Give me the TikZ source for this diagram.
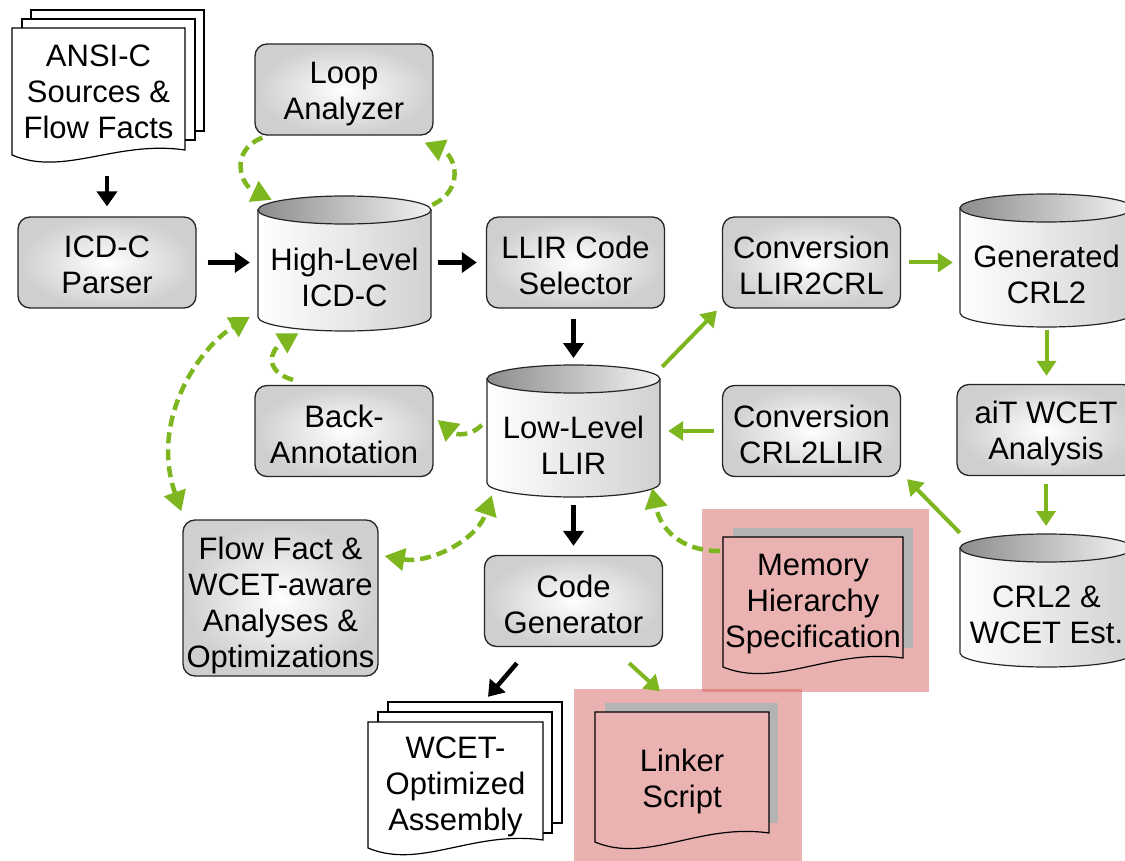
\documentclass[tikz,border=0pt]{standalone}
\usepackage{fontspec}
\setmainfont{Liberation Sans}
\usetikzlibrary{arrows.meta,calc}

\definecolor{flowgreen}{RGB}{125,182,31}
\definecolor{hlpink}{RGB}{215,101,101}
\definecolor{docpink}{RGB}{235,178,178}
\definecolor{shadowgray}{RGB}{180,180,180}

\tikzset{
  lbl/.style={font=\fontsize{31}{36}\selectfont, align=center},
  procbox/.style={draw=black!85, line width=1.3pt, rounded corners=12pt,
    inner color=white, outer color=black!19,
    minimum width=178pt, minimum height=91pt, inner sep=0pt},
  textarea/.style={lbl, inner sep=0pt},
  blk/.style={line width=4.5pt, black, -{Triangle[length=15pt,width=20pt]}},
  grn/.style={line width=4pt, flowgreen, -{Triangle[length=15pt,width=19pt]}},
  grnd/.style={line width=4.5pt, flowgreen, dash pattern=on 11pt off 6pt,
    -{Triangle[length=20pt,width=22pt]}},
  grndd/.style={grnd, {Triangle[length=20pt,width=22pt]}-{Triangle[length=20pt,width=22pt]}},
  sheet/.style={draw=black, line width=1.2pt, fill=white},
  pinksheet/.style={draw=black, line width=1.2pt, fill=docpink},
  highlight/.style={fill=hlpink, fill opacity=0.5},
  shadowbox/.style={fill=shadowgray},
}

% rounded processing box: options, name, centre, label shift, label
\newcommand\procnode[5][]{%
  \node[procbox, #1, label={[lbl, yshift=#4]center:{#5}}] (#2) at (#3) {};
}

% database cylinder: name, left x, top rim y, bottom rim y, width, label
\newcommand\cylnode[6]{%
  \pgfmathsetmacro\cylcx{#2+#5/2}%
  \pgfmathsetmacro\cylx{#2+#5}%
  \pgfmathsetmacro\cylhw{#5/2}%
  \pgfmathsetmacro\cylk{0.5523*#5/2}%
  \pgfmathsetmacro\cylbd{#4+14}%
  \pgfmathsetmacro\cylbk{#4+0.5523*14}%
  \pgfmathsetmacro\cylmid{(#3+#4)/2+14}%
  \pgfmathsetmacro\cylh{#4-#3}%
  \draw[line width=1.2pt, draw=black!85, left color=white, right color=black!18]
    (#2,#3) -- (#2,#4) .. controls (#2,\cylbk) and ({\cylcx-\cylk},\cylbd) .. (\cylcx,\cylbd)
    .. controls ({\cylcx+\cylk},\cylbd) and (\cylx,\cylbk) .. (\cylx,#4) -- (\cylx,#3) -- cycle;
  \draw[line width=1.2pt, draw=black!85, left color=black!45, right color=black!5]
    (\cylcx,#3) ellipse [x radius=\cylhw pt, y radius=14pt];
  \coordinate (#1-top) at (\cylcx,{#3-14});
  \node[textarea, minimum width=#5 pt, minimum height=\cylh pt] (#1) at (\cylcx,\cylmid) {#6};
}

% document sheet with wavy lower edge: style, left x, top y, right x, left bottom y, right bottom y
\newcommand\docshape[6]{%
  \pgfmathsetmacro\docw{#4-#2}%
  \draw[#1] (#2,#3) -- (#4,#3) -- (#4,#6)
    .. controls ({#2+0.6*\docw},{#6-10}) and ({#2+0.3*\docw},{#5+22}) .. (#2,#5) -- cycle;
}

\begin{document}
\begin{tikzpicture}[x=1pt, y=-1pt]
\useasboundingbox[fill=white] (0,0) rectangle (1125,861);
\clip (0,0) rectangle (1125,861);

% highlighted target-specific inputs and outputs
\fill[highlight] (702,509) rectangle (929,692);
\fill[highlight] (574,689) rectangle (802,870);
\fill[shadowbox] (733,528) rectangle (913,648);
\fill[shadowbox] (605,703) rectangle (778,823);

% source files
\draw[sheet] (31,10) rectangle (204,131);
\draw[sheet] (22,19) rectangle (195,140);
\docshape{sheet}{12}{28}{185}{155}{150}
\node[textarea, minimum width=173pt, minimum height=122pt] (ansi) at (98.5,92) {ANSI-C\\Sources \&\\Flow Facts};

% generated assembly
\draw[sheet] (388,702) rectangle (562,823);
\draw[sheet] (378,712) rectangle (552,833);
\docshape{sheet}{368}{722}{543}{848}{840}
\node[textarea, minimum width=175pt, minimum height=118pt] (asm) at (455.5,787) {WCET-\\Optimized\\Assembly};

% memory hierarchy and linker script
\docshape{pinksheet}{723}{537}{903}{667}{658}
\node[textarea, minimum width=180pt, minimum height=121pt] (mem) at (813,604) {Memory\\Hierarchy\\Specification};
\docshape{pinksheet}{595}{712}{769}{842}{833}
\node[textarea, minimum width=174pt, minimum height=121pt] (linker) at (682,781) {Linker\\Script};

% processing steps
\procnode{loop}{344,89.5}{-5pt}{Loop\\Analyzer}
\procnode{parser}{107,262.5}{-2pt}{ICD-C\\Parser}
\procnode{sel}{575.5,262.5}{-3pt}{LLIR Code\\Selector}
\procnode{conv1}{811.5,262.5}{-3pt}{Conversion\\LLIR2CRL}
\procnode{ait}{1046,430}{-3pt}{aiT WCET\\Analysis}
\procnode{conv2}{811.5,431}{-3pt}{Conversion\\CRL2LLIR}
\procnode{ba}{344,431}{-3pt}{Back-\\Annotation}
\procnode[minimum width=195pt, minimum height=156pt]{flow}{280.5,598}{-7pt}%
  {Flow Fact \&\\WCET-aware\\Analyses \&\\Optimizations}
\procnode{codegen}{573.5,601}{-3pt}{Code\\Generator}

% intermediate representations
\cylnode{hl}{258}{210}{317}{173}{High-Level\\ICD-C}
\cylnode{llir}{487}{379}{483}{173}{Low-Level\\LLIR}
\cylnode{gen}{960}{208}{313}{173}{Generated\\CRL2}
\cylnode{crlw}{960}{548}{653}{173}{CRL2 \&\\WCET Est.}

% compiler flow
\draw[blk, shorten <=23pt, shorten >=10pt] (parser.north |- ansi.south) -- (parser.north);
\draw[blk, shorten <=11pt, shorten >=8pt] (parser.east) -- (parser.east -| hl.west);
\draw[blk, shorten <=7pt, shorten >=9pt] (hl.east |- sel.west) -- (sel.west);
\draw[blk, shorten <=10pt, shorten >=7pt] (llir-top |- sel.south) -- (llir-top);
\draw[blk, shorten <=8pt, shorten >=9pt] (llir.south) -- (llir.south |- codegen.north);
\draw[blk] ($(codegen.south west)+(33,16)$) -- ($(asm.north)+(32.5,-31)$);

% WCET analysis loop
\draw[grn] ($(llir.north east)+(2,-26)$) -- ($(conv1.south west)+(-5,2)$);
\draw[grn, shorten <=8pt, shorten >=7pt] (conv1.east) -- (conv1.east -| gen.west);
\draw[grn, shorten <=3pt, shorten >=8pt] (gen.south) -- (gen.south |- ait.north);
\draw[grn, shorten <=8pt, shorten >=8pt] (ait.south) -- (ait.south |- crlw-top);
\draw[grn] ($(crlw.north west)+(0,-29)$) -- ($(conv2.south east)+(6,2)$);
\draw[grn, shorten <=8pt, shorten >=8pt] (conv2.west) -- (conv2.west -| llir.east);
\draw[grn] ($(codegen.south east)+(-34,16)$) -- ($(linker.north)+(-22,-29)$);

% information exchange
\draw[grnd] ($(loop.south west)+(8,2)$) .. controls +(-33,13) and +(-32,-15) .. ($(hl.north west)+(14,-24)$);
\draw[grnd] ($(hl.north east)+(1,-19)$) .. controls +(33,-15) and +(31,13) .. ($(loop.south east)+(-9,7)$);
\draw[grnd] ($(ba.north)+(-51,-5)$) .. controls +(-28,-8) and +(-30,18) .. ($(hl.south)+(-46,2)$);
\draw[grnd] ($(llir.west)+(-5,-20)$) .. controls +(-12,12) and +(18,15) .. ($(ba.east)+(4,-11)$);
\draw[grndd] ($(flow.north west)+(-1,-8)$) .. controls +(-32,-92) and +(-50,30) .. ($(hl.west)+(-8,39.5)$);
\draw[grndd] ($(flow.east)+(6,-42)$) .. controls +(45,8) and +(-15,45) .. ($(llir.south west)+(5,-2)$);
\draw[grnd] ($(mem.west)+(-3,-53)$) .. controls +(-40,0) and +(8,40) .. ($(llir.south east)+(-8,-9)$);
\end{tikzpicture}
\end{document}
